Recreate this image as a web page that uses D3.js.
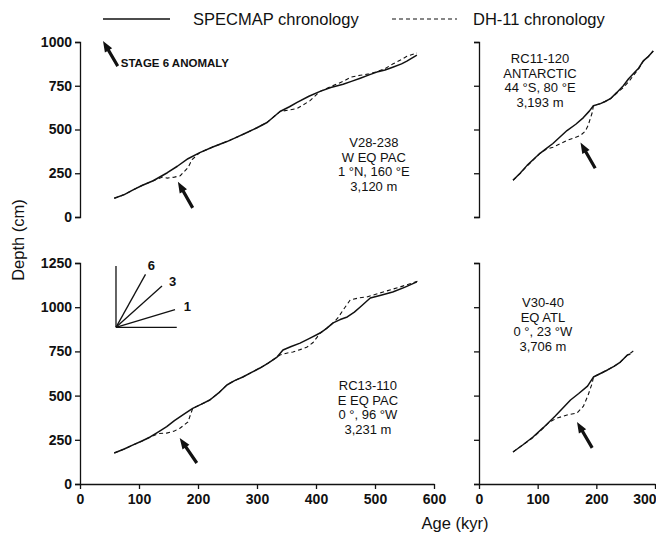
<!DOCTYPE html>
<html>
<head>
<meta charset="utf-8">
<script src="https://cdn.jsdelivr.net/npm/d3@7"></script>
<style>
  body { margin: 0; background: #fff; }
  text { font-family: "Liberation Sans", Arial, sans-serif; fill: #111; }
</style>
</head>
<body>
<div id="chart"></div>
<script>
// tick values
var ageTicksLeft = [0, 100, 200, 300, 400, 500, 600];
var ageTicksRight = [0, 100, 200, 300];
var depthTicksTop = [0, 250, 500, 750, 1000];
var depthTicksBottom = [0, 250, 500, 750, 1000, 1250];

// V28-238 (W EQ PAC)
var v28Age      = [58, 75, 90, 105, 124, 148, 165, 183, 203, 225, 249, 265, 283, 300, 317, 339, 355, 368, 388, 407, 425, 446, 460, 475, 490, 503, 517, 530, 545, 554, 571];
var v28Specmap  = [107, 128, 155, 180, 207, 253, 290, 333, 368, 400, 431, 455, 483, 510, 540, 603, 630, 655, 690, 718, 740, 759, 775, 793, 812, 828, 840, 856, 875, 891, 925];
var v28DhAge    = [58, 75, 90, 105, 124, 140, 148, 160, 170, 183, 190, 203, 225, 249, 265, 283, 300, 317, 339, 355, 368, 390, 407, 425, 446, 460, 475, 490, 503, 517, 530, 545, 554, 571];
var v28Dh       = [107, 128, 155, 180, 207, 228, 222, 228, 236, 282, 328, 368, 400, 431, 455, 483, 510, 540, 603, 612, 620, 665, 718, 745, 775, 800, 810, 818, 830, 848, 874, 900, 918, 937];

// RC11-120 (ANTARCTIC)
var rc11Age     = [58, 70, 82, 93, 104, 115, 126, 138, 150, 165, 178, 188, 195, 207, 215, 224, 235, 246, 255, 263, 272, 280, 289, 297];
var rc11Specmap = [210, 250, 295, 330, 364, 392, 420, 457, 494, 530, 568, 605, 636, 648, 660, 676, 712, 750, 790, 818, 850, 892, 918, 949];
var rc11DhAge   = [58, 70, 82, 93, 104, 115, 126, 138, 150, 162, 173, 181, 186, 193, 195, 207, 215, 224, 235, 246, 255, 263, 272, 280, 289, 297];
var rc11Dh      = [210, 248, 292, 328, 364, 388, 398, 418, 438, 452, 466, 490, 523, 597, 636, 648, 660, 676, 708, 740, 772, 808, 846, 890, 918, 949];

// RC13-110 (E EQ PAC)
var rc13Age     = [58, 75, 90, 105, 119, 133, 147, 160, 175, 191, 205, 220, 235, 249, 262, 276, 290, 305, 319, 334, 344, 358, 373, 390, 407, 418, 429, 441, 453, 465, 475, 492, 510, 530, 550, 571];
var rc13Specmap = [175, 198, 221, 243, 266, 295, 325, 358, 392, 428, 450, 475, 515, 560, 585, 605, 630, 656, 684, 718, 758, 778, 797, 825, 854, 880, 911, 930, 945, 972, 1001, 1052, 1068, 1086, 1112, 1143];
var rc13DhAge   = [58, 75, 90, 105, 119, 133, 147, 160, 170, 183, 191, 205, 220, 235, 249, 262, 276, 290, 305, 319, 334, 339, 350, 361, 373, 385, 395, 402, 407, 418, 429, 437, 446, 458, 472, 486, 500, 514, 528, 542, 557, 573];
var rc13Dh      = [175, 198, 221, 243, 266, 285, 288, 300, 317, 351, 428, 450, 475, 515, 560, 585, 605, 630, 656, 684, 718, 730, 740, 747, 760, 775, 800, 831, 854, 880, 911, 939, 984, 1041, 1052, 1058, 1072, 1086, 1100, 1114, 1130, 1148];

// V30-40 (EQ ATL)
var v30Age      = [58, 75, 92, 110, 130, 143, 156, 170, 185, 195, 207, 219, 230, 241, 247, 253, 258];
var v30Specmap  = [181, 222, 266, 320, 385, 430, 475, 512, 554, 605, 625, 645, 665, 690, 710, 730, 735];
var v30DhAge    = [58, 75, 92, 110, 120, 133, 150, 167, 178, 186, 193, 195, 207, 219, 230, 241, 247, 253, 258, 263];
var v30Dh       = [181, 222, 262, 318, 350, 373, 390, 401, 440, 503, 571, 605, 625, 645, 665, 690, 710, 730, 740, 752];

// stage 6 anomaly arrows: [tail age, tail depth, tip age, tip depth]
var v28Arrow  = [191, 52, 166, 201];
var rc11Arrow = [198, 278, 173, 426];
var rc13Arrow = [198, 119, 169, 260];
var v30Arrow  = [193, 204, 167, 351];
var keyArrow  = [64, 862, 39, 1006];

// sedimentation rate key (cm/kyr)
var insetRates = [1, 3, 6];
var insetRayEndAge = [161, 139, 111];
var insetOrigin = [61, 886];

(function() {
  var svg = d3.select('#chart').append('svg')
    .attr('width', 656)
    .attr('height', 534);

  var xLeft = d3.scaleLinear().domain([0, 600]).range([80, 434]);
  var xRight = d3.scaleLinear().domain([0, 300]).range([479, 655]);
  var yTop = d3.scaleLinear().domain([0, 1000]).range([217, 42]);
  var yBottom = d3.scaleLinear().domain([0, 1250]).range([484, 263]);

  function yAxis(y, ticks, labels) {
    var ax = d3.axisLeft(y).tickValues(ticks).tickSize(5).tickSizeOuter(5).tickPadding(3);
    ax.tickFormat(labels ? d3.format('d') : '');
    return ax;
  }

  function styleAxis(g) {
    g.selectAll('path, line').attr('stroke', '#111').attr('stroke-width', 1.3);
    g.selectAll('text')
      .style('font-size', '14px')
      .style('font-weight', 'bold')
      .attr('fill', '#111');
  }

  // y axes
  svg.append('g').attr('transform', 'translate(80,0)').call(yAxis(yTop, depthTicksTop, true)).call(styleAxis);
  svg.append('g').attr('transform', 'translate(479,0)').call(yAxis(yTop, depthTicksTop, false)).call(styleAxis);
  svg.append('g').attr('transform', 'translate(80,0)').call(yAxis(yBottom, depthTicksBottom, true)).call(styleAxis);
  svg.append('g').attr('transform', 'translate(479,0)').call(yAxis(yBottom, depthTicksBottom, false)).call(styleAxis);

  // x axes
  svg.append('g').attr('transform', 'translate(0,484)')
    .call(d3.axisBottom(xLeft).tickValues(ageTicksLeft).tickSize(5).tickSizeOuter(0).tickPadding(5))
    .call(styleAxis);
  svg.append('g').attr('transform', 'translate(0,484)')
    .call(d3.axisBottom(xRight).tickValues(ageTicksRight).tickSize(5).tickSizeOuter(0).tickPadding(5))
    .call(styleAxis)
    .selectAll('.tick:last-of-type text').attr('text-anchor', 'end').attr('dx', 1);

  function drawCore(x, y, age, spec, dhAge, dh) {
    var line = d3.line().x(function(d) { return x(d[0]); }).y(function(d) { return y(d[1]); });
    svg.append('path')
      .attr('d', line(d3.zip(dhAge, dh)))
      .attr('fill', 'none')
      .attr('stroke', '#111')
      .attr('stroke-width', 1.1)
      .attr('stroke-dasharray', '4,3');
    svg.append('path')
      .attr('d', line(d3.zip(age, spec)))
      .attr('fill', 'none')
      .attr('stroke', '#111')
      .attr('stroke-width', 1.5)
      .attr('stroke-linejoin', 'round');
  }

  drawCore(xLeft, yTop, v28Age, v28Specmap, v28DhAge, v28Dh);
  drawCore(xRight, yTop, rc11Age, rc11Specmap, rc11DhAge, rc11Dh);
  drawCore(xLeft, yBottom, rc13Age, rc13Specmap, rc13DhAge, rc13Dh);
  drawCore(xRight, yBottom, v30Age, v30Specmap, v30DhAge, v30Dh);

  function arrow(x, y, a) {
    var x0 = x(a[0]), y0 = y(a[1]), x1 = x(a[2]), y1 = y(a[3]);
    var dx = x1 - x0, dy = y1 - y0, len = Math.sqrt(dx * dx + dy * dy);
    var ux = dx / len, uy = dy / len, px = -uy, py = ux;
    var head = 11, hw = 4.2, sw = 1.6;
    var bx = x1 - ux * head, by = y1 - uy * head;
    var pts = [
      [x0 + px * sw, y0 + py * sw],
      [bx + px * sw, by + py * sw],
      [bx + px * hw, by + py * hw],
      [x1, y1],
      [bx - px * hw, by - py * hw],
      [bx - px * sw, by - py * sw],
      [x0 - px * sw, y0 - py * sw]
    ];
    svg.append('path')
      .attr('d', 'M' + pts.map(function(p) { return p[0].toFixed(1) + ',' + p[1].toFixed(1); }).join('L') + 'Z')
      .attr('fill', '#111');
  }

  arrow(xLeft, yTop, v28Arrow);
  arrow(xRight, yTop, rc11Arrow);
  arrow(xLeft, yBottom, rc13Arrow);
  arrow(xRight, yBottom, v30Arrow);
  arrow(xLeft, yTop, keyArrow);

  svg.append('text')
    .attr('x', xLeft(keyArrow[0]) + 3)
    .attr('y', yTop(keyArrow[1]) + 1)
    .style('font-size', '11.5px')
    .style('font-weight', 'bold')
    .text('STAGE 6 ANOMALY');

  // core labels
  function label(cx, firstBaseline, lines) {
    var t = svg.append('text').attr('text-anchor', 'middle').style('font-size', '13px');
    lines.forEach(function(s, i) {
      t.append('tspan').attr('x', cx).attr('y', firstBaseline + i * 14.5).text(s);
    });
  }
  label(xLeft(498), 147, ['V28-238', 'W EQ PAC', '1 \u00B0N, 160 \u00B0E', '3,120 m']);
  label(xRight(104), 63, ['RC11-120', 'ANTARCTIC', '44 \u00B0S, 80 \u00B0E', '3,193 m']);
  label(xLeft(488), 390, ['RC13-110', 'E EQ PAC', '0 \u00B0, 96 \u00B0W', '3,231 m']);
  label(xRight(109), 307, ['V30-40', 'EQ ATL', '0 \u00B0, 23 \u00B0W', '3,706 m']);

  // sedimentation-rate key
  var ox = xLeft(insetOrigin[0]), oy = yBottom(insetOrigin[1]);
  var key = svg.append('g').attr('stroke', '#111').attr('stroke-width', 1.3);
  key.append('line').attr('x1', ox).attr('y1', oy).attr('x2', ox).attr('y2', yBottom(1233));
  key.append('line').attr('x1', ox).attr('y1', oy).attr('x2', xLeft(164)).attr('y2', oy);
  insetRates.forEach(function(r, i) {
    var ea = insetRayEndAge[i];
    var ed = insetOrigin[1] + r * (ea - insetOrigin[0]);
    key.append('line').attr('x1', ox).attr('y1', oy).attr('x2', xLeft(ea)).attr('y2', yBottom(ed));
    var la = ea + (r === 6 ? 10 : 18), ld = ed + (r === 6 ? 55 : 30);
    if (r === 1) { la = ea + 21; ld = ed + 18; }
    svg.append('text')
      .attr('x', xLeft(la)).attr('y', yBottom(ld) + 5)
      .attr('text-anchor', 'middle')
      .style('font-size', '13px').style('font-weight', 'bold')
      .text(r);
  });

  // legend
  svg.append('line').attr('x1', 103).attr('x2', 170).attr('y1', 19).attr('y2', 19)
    .attr('stroke', '#111').attr('stroke-width', 1.3);
  svg.append('text').attr('x', 193).attr('y', 25).style('font-size', '16.5px').text('SPECMAP chronology');
  svg.append('line').attr('x1', 392).attr('x2', 457).attr('y1', 19).attr('y2', 19)
    .attr('stroke', '#111').attr('stroke-width', 1.1).attr('stroke-dasharray', '4,3');
  svg.append('text').attr('x', 473).attr('y', 25).style('font-size', '16.5px').text('DH-11 chronology');

  // axis titles
  svg.append('text')
    .attr('transform', 'translate(24,240) rotate(-90)')
    .attr('text-anchor', 'middle')
    .style('font-size', '16.5px')
    .text('Depth (cm)');
  svg.append('text')
    .attr('x', 455).attr('y', 529)
    .attr('text-anchor', 'middle')
    .style('font-size', '16.5px')
    .text('Age (kyr)');
})();
</script>
</body>
</html>
